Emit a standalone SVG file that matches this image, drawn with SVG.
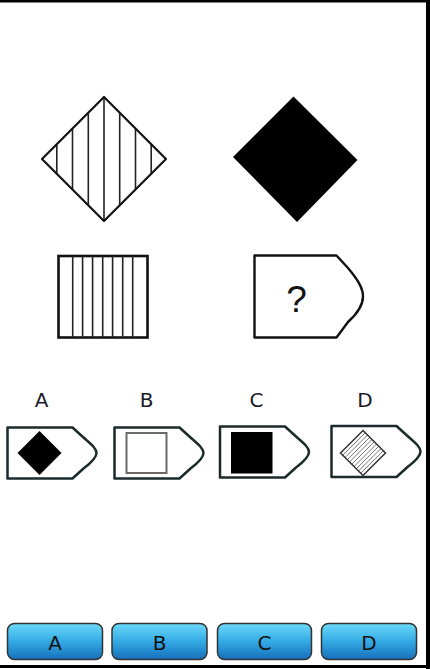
<svg xmlns="http://www.w3.org/2000/svg" width="430" height="669" viewBox="0 0 430 669">
  <defs>
    <style>
      .outline { fill: #fff; stroke: #111; stroke-width: 2.4; stroke-linejoin: round; }
      .opt { fill: #fff; stroke: #1b2a2a; stroke-width: 2.5; stroke-linejoin: round; }
      .stripe { stroke: #222; stroke-width: 1.6; }
      .hatch { stroke: #777; stroke-width: 1; }
      .lbl { font-family: "DejaVu Sans", "Liberation Sans", sans-serif; font-size: 20px; fill: #1a1a2a; text-anchor: middle; }
      .btn { stroke: #333; stroke-width: 1.5; fill: url(#btnGrad); }
      .btnTxt { font-family: "DejaVu Sans", "Liberation Sans", sans-serif; font-size: 20px; fill: #111; text-anchor: middle; }
    </style>
    <linearGradient id="btnGrad" x1="0" y1="0" x2="0" y2="1">
      <stop offset="0" stop-color="#6cd9fa"/>
      <stop offset="0.5" stop-color="#33aae4"/>
      <stop offset="1" stop-color="#176fbb"/>
    </linearGradient>
    <clipPath id="dia1clip">
      <polygon points="104,97 166,159 104,221 42,159"/>
    </clipPath>
    <clipPath id="diaDclip">
      <polygon points="363,430.5 385.5,453 363,475.5 340.5,453"/>
    </clipPath>
    <path id="optShape" d="M0,0 H65 L76,10 C 84,17 89,21 89,25.5 C 89,30 84,35 76,41 L65,51 H0 Z"/>
  </defs>

  <rect width="430" height="669" fill="#fff"/>
  <!-- frame -->
  <rect x="0" y="0" width="430" height="2.5" fill="#000"/>
  <rect x="426" y="0" width="4" height="669" fill="#000"/>
  <rect x="0" y="665" width="430" height="3" fill="#000"/>

  <g id="striped-diamond">
    <g clip-path="url(#dia1clip)">
      <line class="stripe" x1="56.8" y1="97" x2="56.8" y2="221"/>
      <line class="stripe" x1="72.5" y1="97" x2="72.5" y2="221"/>
      <line class="stripe" x1="88.3" y1="97" x2="88.3" y2="221"/>
      <line class="stripe" x1="104" y1="97" x2="104" y2="221"/>
      <line class="stripe" x1="119.7" y1="97" x2="119.7" y2="221"/>
      <line class="stripe" x1="135.5" y1="97" x2="135.5" y2="221"/>
      <line class="stripe" x1="151.2" y1="97" x2="151.2" y2="221"/>
    </g>
    <polygon points="104,97 166,159 104,221 42,159" fill="none" stroke="#111" stroke-width="2.2" stroke-linejoin="round"/>
  </g>

  <g id="black-diamond">
    <polygon points="293.5,96.5 357.5,160 297,222 233,157" fill="#000"/>
  </g>

  <g id="striped-square">
    <rect x="58.5" y="256" width="89" height="81.5" fill="#fff" stroke="#111" stroke-width="2.6"/>
    <line class="stripe" x1="72.7" y1="256" x2="72.7" y2="337.5"/>
    <line class="stripe" x1="82.6" y1="256" x2="82.6" y2="337.5"/>
    <line class="stripe" x1="92.6" y1="256" x2="92.6" y2="337.5"/>
    <line class="stripe" x1="102.7" y1="256" x2="102.7" y2="337.5"/>
    <line class="stripe" x1="112.6" y1="256" x2="112.6" y2="337.5"/>
    <line class="stripe" x1="122.7" y1="256" x2="122.7" y2="337.5"/>
    <line class="stripe" x1="132.7" y1="256" x2="132.7" y2="337.5"/>
  </g>

  <g id="question-shape">
    <path class="outline" d="M254.5,255.5 H336.5 L348,268 C 358,280 363,288 363,296.5 C 363,305 358,313 348,322 L336.5,337.5 H254.5 Z"/>
    <text x="296.5" y="312" font-family="Liberation Sans, Arial, sans-serif" font-size="37" fill="#111" text-anchor="middle">?</text>
  </g>

  <g id="option-A">
    <text class="lbl" x="41.5" y="407">A</text>
    <use href="#optShape" class="opt" transform="translate(7.5,427.5)"/>
    <polygon points="39.5,431 61.5,453 39.5,475 17.5,453" fill="#000"/>
  </g>

  <g id="option-B">
    <text class="lbl" x="146.5" y="407">B</text>
    <use href="#optShape" class="opt" transform="translate(114.5,427.5)"/>
    <rect x="126.5" y="433" width="40" height="40" fill="#fff" stroke="#6a6a6a" stroke-width="2"/>
  </g>

  <g id="option-C">
    <text class="lbl" x="256.5" y="407">C</text>
    <use href="#optShape" class="opt" transform="translate(220,426.5)"/>
    <rect x="231" y="432" width="41.5" height="41.5" fill="#000"/>
  </g>

  <g id="option-D">
    <text class="lbl" x="365" y="407">D</text>
    <use href="#optShape" class="opt" transform="translate(331.5,426)"/>
    <g clip-path="url(#diaDclip)">
      <line class="hatch" x1="330" y1="468" x2="400" y2="398"/>
      <line class="hatch" x1="330" y1="472.5" x2="400" y2="402.5"/>
      <line class="hatch" x1="330" y1="477" x2="400" y2="407"/>
      <line class="hatch" x1="330" y1="481.5" x2="400" y2="411.5"/>
      <line class="hatch" x1="330" y1="486" x2="400" y2="416"/>
      <line class="hatch" x1="330" y1="490.5" x2="400" y2="420.5"/>
      <line class="hatch" x1="330" y1="495" x2="400" y2="425"/>
      <line class="hatch" x1="330" y1="499.5" x2="400" y2="429.5"/>
      <line class="hatch" x1="330" y1="504" x2="400" y2="434"/>
    </g>
    <polygon points="363,430.5 385.5,453 363,475.5 340.5,453" fill="none" stroke="#333" stroke-width="1.5"/>
  </g>

  <g id="button-A">
    <rect class="btn" x="7.5" y="623.5" width="95" height="36" rx="7"/>
    <text class="btnTxt" x="55" y="650">A</text>
  </g>
  <g id="button-B">
    <rect class="btn" x="112" y="623.5" width="95" height="36" rx="7"/>
    <text class="btnTxt" x="159.5" y="650">B</text>
  </g>
  <g id="button-C">
    <rect class="btn" x="217.5" y="623.5" width="94" height="36" rx="7"/>
    <text class="btnTxt" x="264.5" y="650">C</text>
  </g>
  <g id="button-D">
    <rect class="btn" x="321.5" y="623.5" width="95" height="36" rx="7"/>
    <text class="btnTxt" x="369" y="650">D</text>
  </g>
</svg>
